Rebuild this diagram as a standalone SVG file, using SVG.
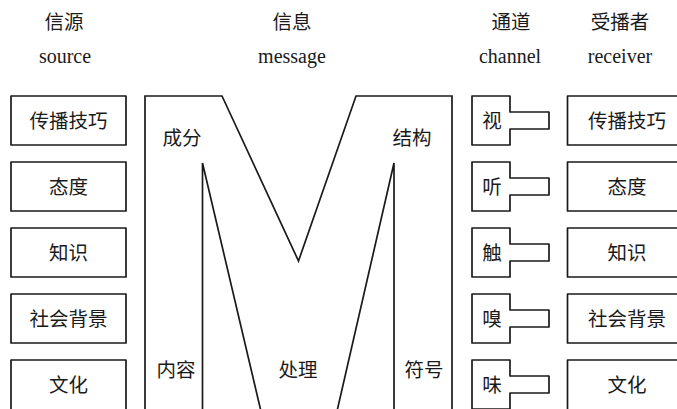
<svg xmlns="http://www.w3.org/2000/svg" width="677" height="409" viewBox="0 0 677 409">
<style>
.b{fill:#fff;stroke:#1a1a1a;stroke-width:1.7;stroke-linejoin:round}
.l{fill:none;stroke:#1a1a1a;stroke-width:1.7;stroke-linejoin:miter}
.t{font-family:"Noto Sans CJK SC","Noto Sans",sans-serif;font-size:19.5px;fill:#1a1a1a;text-anchor:middle}
.h{font-family:"Liberation Serif","Noto Sans CJK SC",serif;font-size:20px;fill:#1a1a1a;text-anchor:middle}
</style>
<defs>
<path id="ch" d="M472,96 H510 V112 H549 V129 H510 V145 H472 Z"/>
</defs>
<g id="headers">
<text class="t" x="64" y="29">信源</text>
<text class="h" x="65" y="63">source</text>
<text class="t" x="292" y="29">信息</text>
<text class="h" x="292" y="63">message</text>
<text class="t" x="511" y="29">通道</text>
<text class="h" x="510" y="63">channel</text>
<text class="t" x="620" y="29">受播者</text>
<text class="h" x="620" y="63">receiver</text>
</g>
<g id="source">
<g id="s1"><rect class="b" x="11" y="96" width="115" height="49"/><text class="t" x="68.5" y="128">传播技巧</text></g>
<g id="s2"><rect class="b" x="11" y="162" width="115" height="49"/><text class="t" x="68.5" y="194">态度</text></g>
<g id="s3"><rect class="b" x="11" y="228" width="115" height="49"/><text class="t" x="68.5" y="260">知识</text></g>
<g id="s4"><rect class="b" x="11" y="294" width="115" height="49"/><text class="t" x="68.5" y="326">社会背景</text></g>
<g id="s5"><rect class="b" x="11" y="360" width="115" height="60"/><text class="t" x="68.5" y="392">文化</text></g>
</g>
<g id="message">
<path class="l" d="M145,420 V96 H222 L298.5,261 L356,96 H452 V420"/>
<path class="l" d="M202.5,420 V163 L263,420"/>
<path class="l" d="M394,420 V163 L335,420"/>
<text class="t" x="182" y="145">成分</text>
<text class="t" x="412" y="145">结构</text>
<text class="t" x="176" y="377">内容</text>
<text class="t" x="298" y="377">处理</text>
<text class="t" x="424" y="377">符号</text>
</g>
<g id="channel">
<g id="c1"><use href="#ch" class="b"/><text class="t" x="492" y="128">视</text></g>
<g id="c2"><use href="#ch" class="b" y="66"/><text class="t" x="492" y="194">听</text></g>
<g id="c3"><use href="#ch" class="b" y="132"/><text class="t" x="492" y="260">触</text></g>
<g id="c4"><use href="#ch" class="b" y="198"/><text class="t" x="492" y="326">嗅</text></g>
<g id="c5"><use href="#ch" class="b" y="264"/><text class="t" x="492" y="392">味</text></g>
</g>
<g id="receiver">
<g id="r1"><rect class="b" x="567.5" y="96" width="120" height="49"/><text class="t" x="627" y="128">传播技巧</text></g>
<g id="r2"><rect class="b" x="567.5" y="162" width="120" height="49"/><text class="t" x="627" y="194">态度</text></g>
<g id="r3"><rect class="b" x="567.5" y="228" width="120" height="49"/><text class="t" x="627" y="260">知识</text></g>
<g id="r4"><rect class="b" x="567.5" y="294" width="120" height="49"/><text class="t" x="627" y="326">社会背景</text></g>
<g id="r5"><rect class="b" x="567.5" y="360" width="120" height="60"/><text class="t" x="627" y="392">文化</text></g>
</g>
<g id="connectors"/>
</svg>
